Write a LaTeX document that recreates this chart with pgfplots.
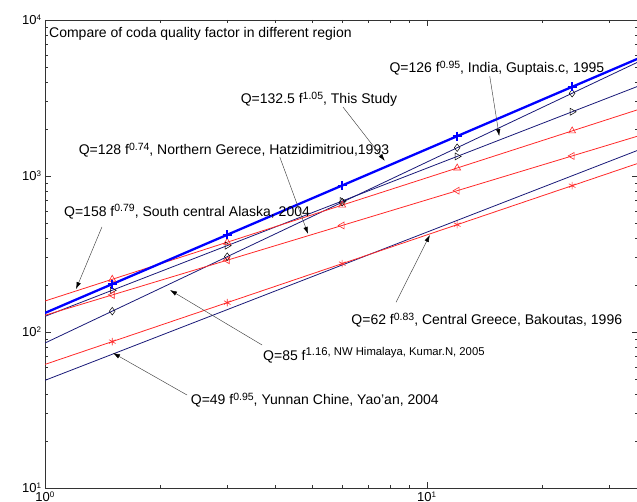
\documentclass[border=0pt]{standalone}
\usepackage{fontspec}
\setmainfont{Liberation Sans}
\usepackage{pgfplots}
\pgfplotsset{compat=1.18}
\usetikzlibrary{arrows.meta}
\definecolor{navy}{RGB}{25,25,120}
\definecolor{myred}{RGB}{255,40,40}
\newcommand{\af}{\fontsize{14}{16}\selectfont}
\newcommand{\ex}[1]{\raisebox{0.62ex}{\fontsize{10.5}{12}\selectfont #1}}
\newcommand{\exb}[1]{\raisebox{0.62ex}{\fontsize{11.3}{12}\selectfont #1}}
\newcommand{\te}[1]{\textsuperscript{\fontsize{8}{9}\selectfont #1}}
\begin{document}
\begin{tikzpicture}
\begin{axis}[name=ax, xmode=log, ymode=log,
  width=593pt, height=468pt, scale only axis,
  xmin=1, xmax=35.7, ymin=10, ymax=10000,
  xtick={1,10}, xticklabels={10\te{0},10\te{1}},
  ytick={10,100,1000,10000},
  yticklabels={10\te{1},10\te{2},10\te{3},10\te{4}},
  minor xtick={2,3,4,5,6,7,8,9,20,30},
  minor ytick={20,30,40,50,60,70,80,90,200,300,400,500,600,700,800,900,2000,3000,4000,5000,6000,7000,8000,9000},
  tick label style={font=\fontsize{13}{14}\selectfont},
  major tick length=6pt, minor tick length=3.5pt,
  axis line style={black!80}, tick style={black!80},
  clip=true]
\addplot[navy, line width=0.8pt, mark=diamond, mark size=3.8pt, mark indices={2,3,4,5,6}, mark options={black, line width=0.5pt, solid, fill=none}]
 coordinates {(1,85)(1.5,136.0)(3,304.0)(6,679.3)(12,1518.0)(24,3392.1)(36,5430)};
\addplot[navy, line width=0.8pt, mark=triangle, mark size=4pt, mark indices={2,3,4,5,6}, mark options={black, rotate=-90, line width=0.5pt, fill=none}]
 coordinates {(1,126)(1.5,185.2)(3,357.8)(6,691.2)(12,1335.2)(24,2579.9)(36,3792)};
\addplot[myred, line width=0.8pt, mark=triangle, mark size=4pt, mark indices={2,3,4,5,6}, mark options={myred, line width=0.6pt, fill=none}]
 coordinates {(1,158)(1.5,217.7)(3,376.3)(6,650.8)(12,1125.1)(24,1945.5)(36,2680.2)};
\addplot[myred, line width=0.8pt, mark=triangle, mark size=4pt, mark indices={2,3,4,5,6}, mark options={myred, rotate=90, line width=0.6pt, fill=none}]
 coordinates {(1,128)(1.5,172.8)(3,288.6)(6,482.0)(12,805.0)(24,1344.5)(36,1815.0)};
\addplot[navy, line width=0.8pt]
 coordinates {(1,49)(1.5,72.0)(3,139.1)(6,268.8)(12,519.3)(24,1003.3)(36,1474.7)};
\addplot[myred, line width=0.8pt, mark=asterisk, mark size=3.8pt, mark indices={2,3,4,5,6}, mark options={myred, line width=0.6pt}]
 coordinates {(1,62)(1.5,86.8)(3,154.3)(6,274.3)(12,487.6)(24,866.9)(36,1213.8)};
\addplot[blue, line width=2.3pt, mark=+, mark size=4.5pt, mark indices={2,3,4,5,6}, mark options={line width=1.6pt}]
 coordinates {(1,132.5)(1.5,202.8)(3,419.9)(6,869.6)(12,1800.4)(24,3727.8)(36,5706)};

\node[anchor=west, font=\af, inner sep=0pt] at (rel axis cs:0.0067,0.970) {Compare of coda quality factor in different region};
\node[font=\af, inner sep=0pt] at (rel axis cs:0.762,0.897) {Q=126 f\ex{0.95}, India, Guptais.c, 1995};
\node[font=\af, inner sep=0pt] at (rel axis cs:0.462,0.831) {Q=132.5 f\ex{1.05}, This Study};
\node[font=\af, inner sep=0pt] at (rel axis cs:0.3187,0.722) {Q=128 f\ex{0.74}, Northern Gerece, Hatzidimitriou,1993};
\node[font=\af, inner sep=0pt] at (rel axis cs:0.2395,0.590) {Q=158 f\ex{0.79}, South central Alaska, 2004};
\node[anchor=west, font=\af, inner sep=0pt] at (rel axis cs:0.3676,0.284) {Q=85 f\exb{1.16, NW Himalaya, Kumar.N, 2005}};
\node[font=\af, inner sep=0pt] at (rel axis cs:0.745,0.359) {Q=62 f\ex{0.83}, Central Greece, Bakoutas, 1996};
\node[font=\af, inner sep=0pt] at (rel axis cs:0.455,0.188) {Q=49 f\ex{0.95}, Yunnan Chine, Yao'an, 2004};

\tikzset{ann/.style={black!75, line width=0.45pt, -{Latex[length=7pt,width=4.5pt,black]}}}
\draw[ann] (rel axis cs:0.750,0.880) -- (rel axis cs:0.766,0.752);
\draw[ann] (rel axis cs:0.5025,0.814) -- (rel axis cs:0.573,0.699);
\draw[ann] (rel axis cs:0.396,0.707) -- (rel axis cs:0.4435,0.543);
\draw[ann] (rel axis cs:0.0961,0.558) -- (rel axis cs:0.0523,0.425);
\draw[ann] (rel axis cs:0.366,0.3056) -- (rel axis cs:0.2108,0.423);
\draw[ann] (rel axis cs:0.592,0.397) -- (rel axis cs:0.649,0.5406);
\draw[ann] (rel axis cs:0.2395,0.1987) -- (rel axis cs:0.1147,0.2885);

\node[rotate=90, font=\af, inner sep=0pt] at ([xshift=-33pt]rel axis cs:0,0.487) {Ln (Qc)};
\end{axis}
\pgfresetboundingbox
\path ([shift={(-45pt,-13pt)}]ax.south west) rectangle ([shift={(-1pt,20pt)}]ax.north east);
\end{tikzpicture}
\end{document}
